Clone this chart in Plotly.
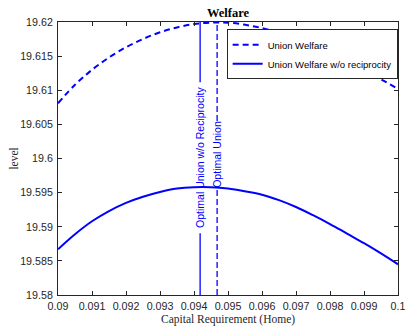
import plotly.graph_objects as go

# ---- data ----
capital_req = [0.0900, 0.0905, 0.0910, 0.0915, 0.0920, 0.0925, 0.0930, 0.0935, 0.0940,
               0.0945, 0.0950, 0.0955, 0.0960, 0.0965, 0.0970, 0.0975, 0.0980, 0.0985,
               0.0990, 0.0995, 0.1000]
union_welfare = [19.6081, 19.6108, 19.6130, 19.6148, 19.6163, 19.6175, 19.6185, 19.6192,
                 19.6197, 19.6199, 19.6199, 19.6196, 19.6191, 19.6184, 19.6176, 19.6166,
                 19.6156, 19.6144, 19.6130, 19.6116, 19.6102]
union_welfare_norecip = [19.5867, 19.5889, 19.5908, 19.5923, 19.5935, 19.5944, 19.5951,
                         19.5956, 19.5958, 19.5958, 19.5956, 19.5952, 19.5947, 19.5939,
                         19.5929, 19.5917, 19.5904, 19.5890, 19.5876, 19.5861, 19.5845]
opt_union = 0.09468
opt_union_norecip = 0.09418

x_ticks = [0.09, 0.091, 0.092, 0.093, 0.094, 0.095, 0.096, 0.097, 0.098, 0.099, 0.1]
x_tick_labels = ["0.09", "0.091", "0.092", "0.093", "0.094", "0.095", "0.096", "0.097",
                 "0.098", "0.099", "0.1"]
y_ticks = [19.58, 19.585, 19.59, 19.595, 19.6, 19.605, 19.61, 19.615, 19.62]
y_tick_labels = ["19.58", "19.585", "19.59", "19.595", "19.6", "19.605", "19.61",
                 "19.615", "19.62"]

BLUE = "#0000FF"
AX = "#262626"
SANS = "Liberation Sans, Arial, sans-serif"
SERIF = "Liberation Serif, Times New Roman, serif"

fig = go.Figure()
fig.add_trace(go.Scatter(x=capital_req, y=union_welfare, mode="lines",
                         name="Union Welfare", line=dict(color=BLUE, width=2, dash="6px,4px",
                                                         shape="spline")))
fig.add_trace(go.Scatter(x=capital_req, y=union_welfare_norecip, mode="lines",
                         name="Union Welfare w/o reciprocity",
                         line=dict(color=BLUE, width=2, shape="spline")))

# vertical lines with gaps for labels (like MATLAB xline labels)
lines = [
    (opt_union_norecip, "solid", "Optimal Union w/o Reciprocity", 0.226, 0.779),
    (opt_union, "6px,3px", "Optimal Union", 0.391, 0.637),
]
for xv, dash, label, g0, g1 in lines:
    for y0, y1 in [(0, g0), (g1, 1)]:
        fig.add_shape(type="line", xref="x", yref="paper", x0=xv, x1=xv, y0=y0, y1=y1,
                      line=dict(color=BLUE, width=1.3, dash=dash))
    fig.add_annotation(x=xv, xref="x", y=(g0 + g1) / 2, yref="paper", text=label,
                       textangle=-90, showarrow=False, xanchor="center", yanchor="middle",
                       font=dict(family=SANS, size=10.5, color=BLUE))

fig.add_annotation(x=0.5, xref="paper", y=1.034, yref="paper", text="<b>Welfare</b>",
                   showarrow=False, xanchor="center", yanchor="middle",
                   font=dict(family=SERIF, size=12.5, color="black"))
fig.add_annotation(x=0.5, xref="paper", y=-0.09, yref="paper",
                   text="Capital Requirement (Home)", showarrow=False,
                   xanchor="center", yanchor="middle",
                   font=dict(family=SERIF, size=11.5, color=AX))
fig.add_annotation(x=-0.132, xref="paper", y=0.5, yref="paper", text="level",
                   textangle=-90, showarrow=False, xanchor="center", yanchor="middle",
                   font=dict(family=SERIF, size=11.5, color=AX))

axis_common = dict(showline=True, linecolor=AX, linewidth=1, mirror="ticks",
                   ticks="inside", ticklen=4, tickcolor=AX, showgrid=False,
                   zeroline=False, ticklabeloverflow="allow",
                   tickfont=dict(family=SANS, size=10.7, color=AX))
fig.update_xaxes(range=[0.09, 0.1], tickvals=x_ticks, ticktext=x_tick_labels,
                 ticklabelstandoff=1, **axis_common)
fig.update_yaxes(range=[19.58, 19.62], tickvals=y_ticks, ticktext=y_tick_labels,
                 ticklabelstandoff=2, **axis_common)

fig.update_layout(
    width=412, height=326,
    margin=dict(l=58, r=7, t=22, b=31),
    paper_bgcolor="white", plot_bgcolor="white",
    showlegend=True,
    legend=dict(x=0.496, y=0.973, xanchor="left", yanchor="top",
                bgcolor="white", bordercolor=AX, borderwidth=1,
                font=dict(family=SANS, size=9.5, color="black"),
                tracegroupgap=0, itemwidth=30),
)

fig.write_html("out.html", config={"displayModeBar": False},
               post_script="document.body.style.margin='0';document.body.style.overflow='hidden';")
